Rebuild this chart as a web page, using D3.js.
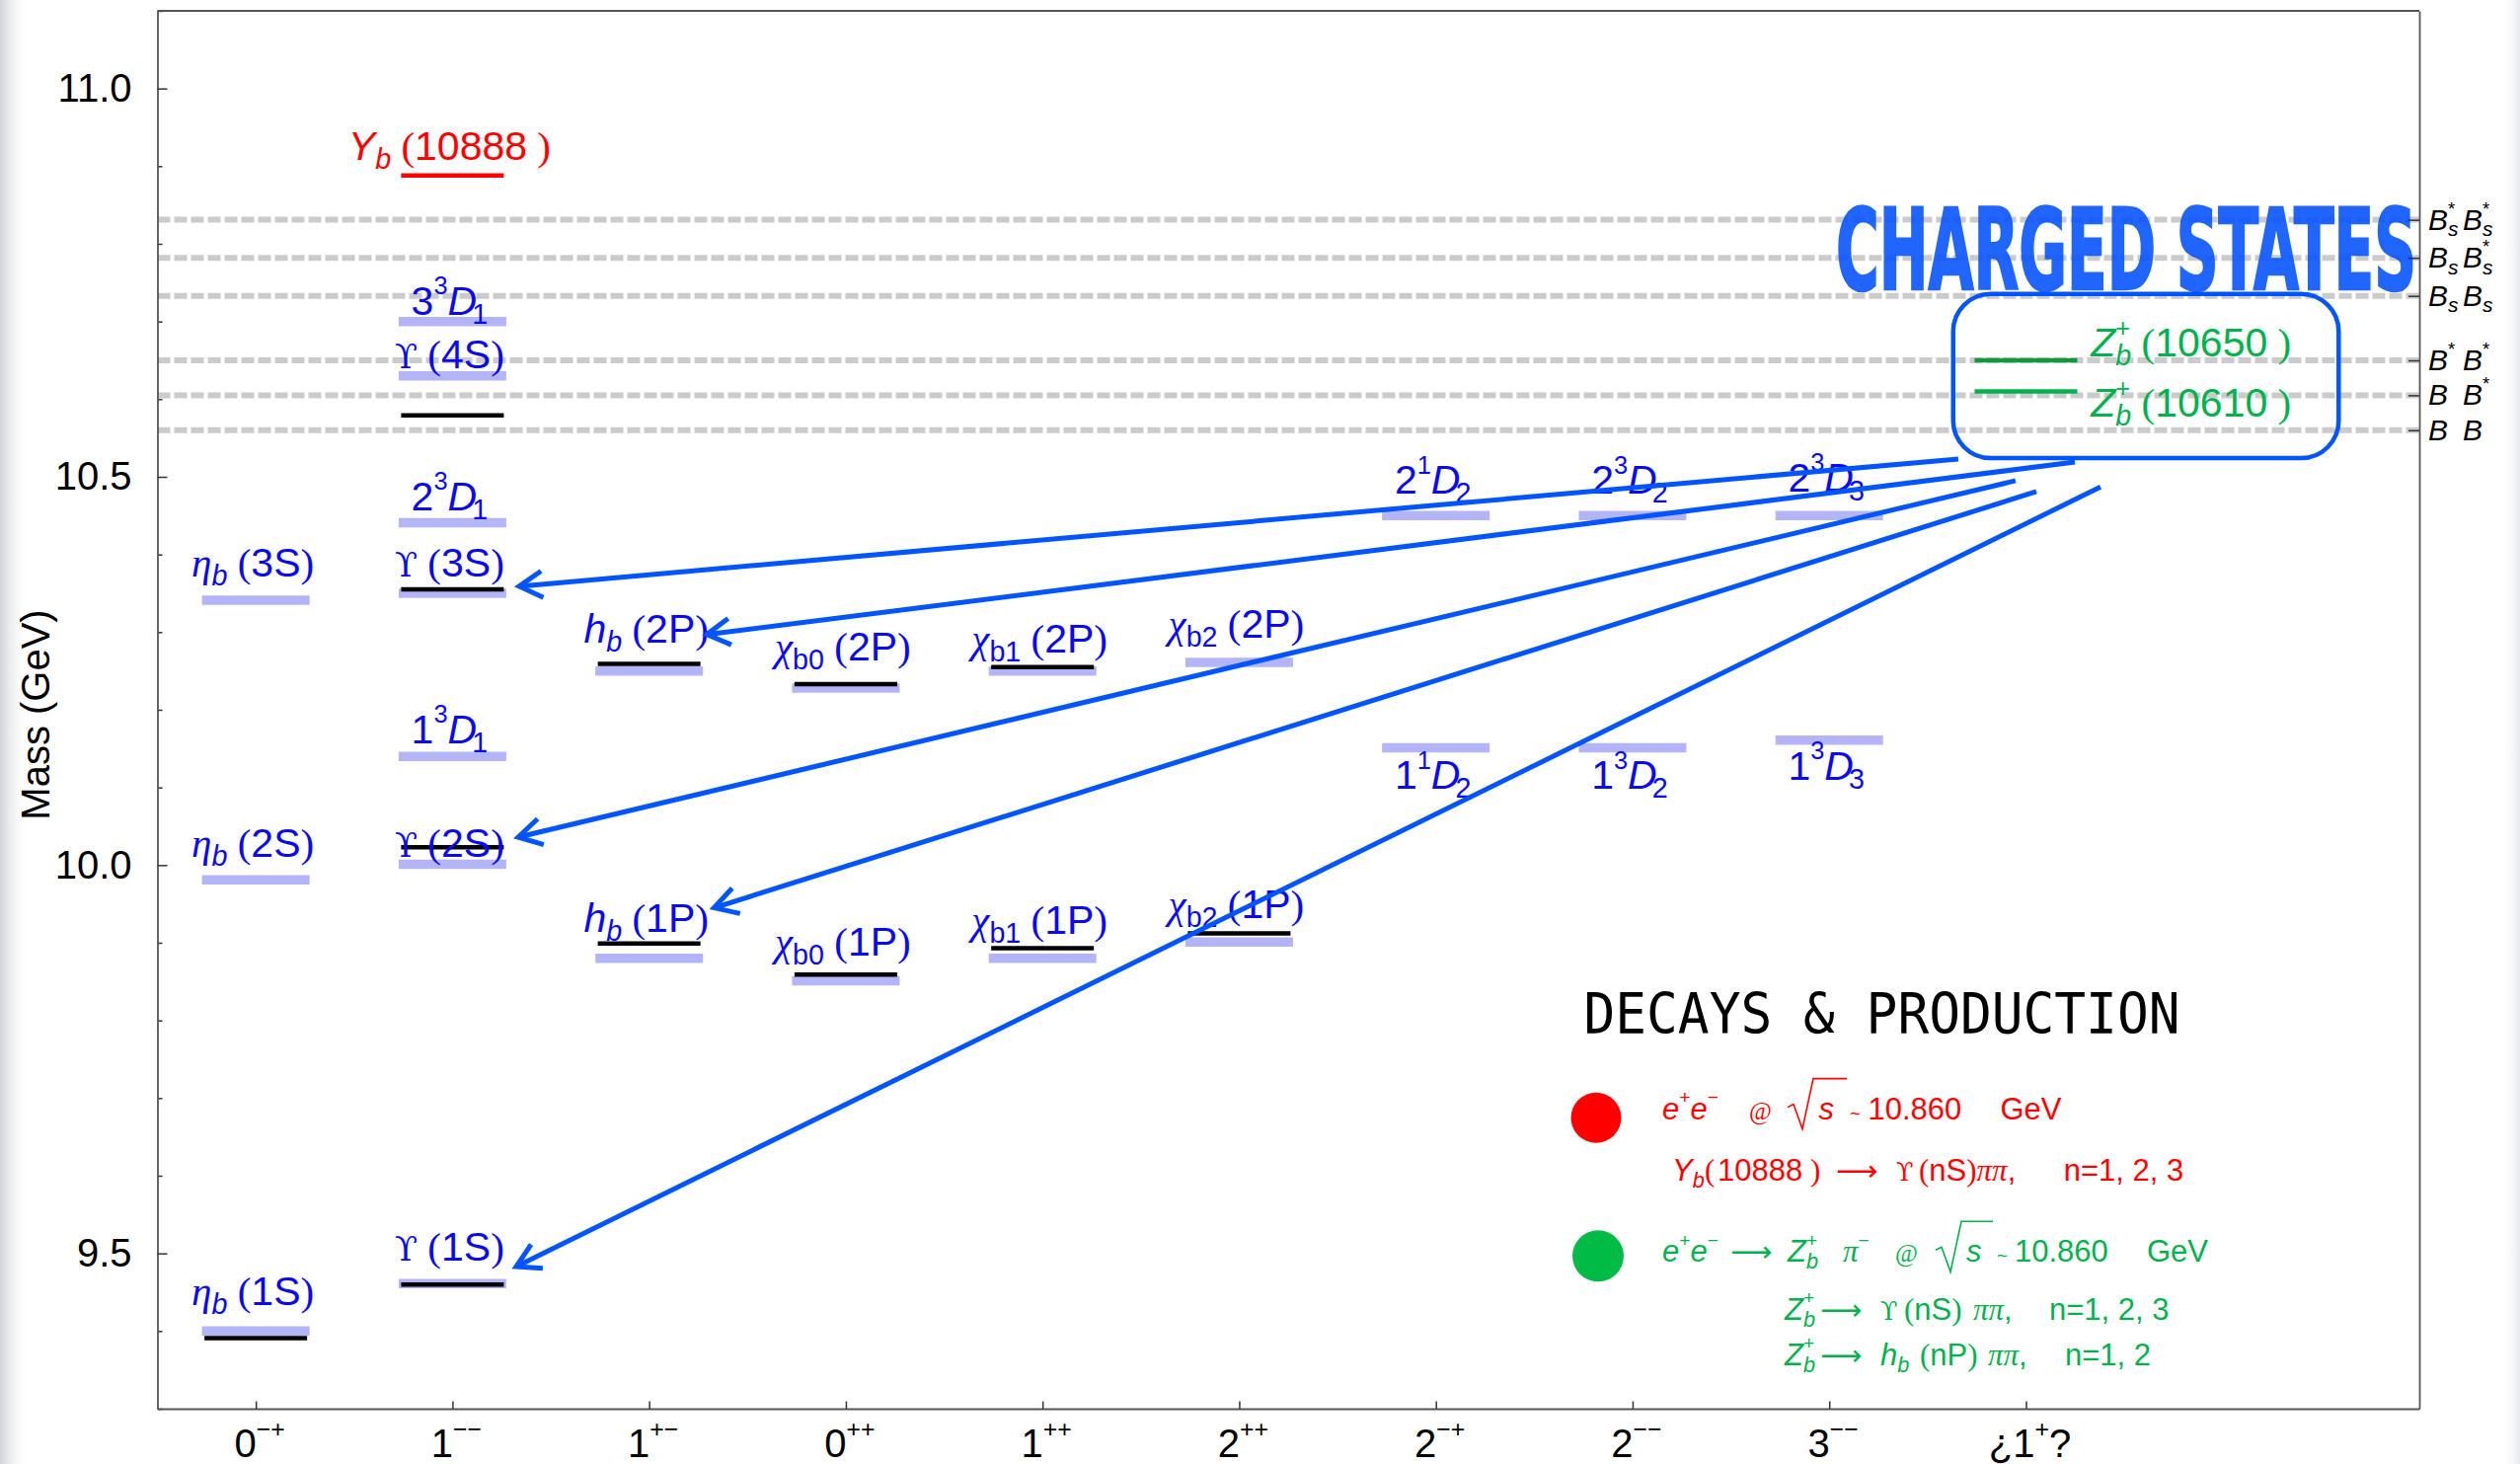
<!DOCTYPE html>
<html><head><meta charset="utf-8">
<script src="https://cdn.jsdelivr.net/npm/d3@7"></script>
<style>html,body{margin:0;padding:0;background:#fff;} svg{display:block;} text{white-space:pre;}</style>
</head><body>
<svg id="chart" width="2553" height="1483"></svg>
<script>
// ---------------- DATA ----------------
const categories = ["0-+","1--","1+-","0++","1++","2++","2-+","2--","3--","¿1+?"];
const yTicks = [9.5, 10.0, 10.5, 11.0];
const yMinorStep = 0.1;

// two-meson thresholds (GeV)
const thresholdPairs  = [["Bs*","Bs*"],["Bs","Bs*"],["Bs","Bs"],["B*","B*"],["B","B*"],["B","B"]];
const thresholdMasses = [10.831, 10.782, 10.733, 10.650, 10.605, 10.560];

// theory predictions (light bars): [state, column, mass GeV]
const theoryStates = [
  ["ηb(1S)",0,9.400],["ηb(2S)",0,9.981],["ηb(3S)",0,10.341],
  ["ϒ(1S)",1,9.461],["ϒ(2S)",1,10.001],["1³D1",1,10.140],["ϒ(3S)",1,10.350],
  ["2³D1",1,10.441],["ϒ(4S)",1,10.630],["3³D1",1,10.700],
  ["hb(1P)",2,9.880],["hb(2P)",2,10.250],
  ["χb0(1P)",3,9.851],["χb0(2P)",3,10.228],
  ["χb1(1P)",4,9.880],["χb1(2P)",4,10.250],
  ["χb2(1P)",5,9.901],["χb2(2P)",5,10.261],
  ["1¹D2",6,10.151],["2¹D2",6,10.450],
  ["1³D2",7,10.151],["2³D2",7,10.450],
  ["1³D3",8,10.161],["2³D3",8,10.450]
];
// experimental masses (black bars)
const expStates = [
  ["ηb(1S)",0,9.391],["ϒ(1S)",1,9.460],["ϒ(2S)",1,10.023],["ϒ(3S)",1,10.355],["ϒ(4S)",1,10.579],
  ["hb(1P)",2,9.899],["hb(2P)",2,10.259],["χb0(1P)",3,9.859],["χb0(2P)",3,10.233],
  ["χb1(1P)",4,9.893],["χb1(2P)",4,10.255],["χb2(1P)",5,9.912]
];
// exotic states: [state, column, mass, colour key]
const exoticStates = [["Yb(10888)",1,10.888,"red"],["Zb(10650)",9,10.650,"dgreen"],["Zb(10610)",9,10.610,"green"]];

// label anchor masses: [state, column, label mass, anchor]
const stateLabels = [
  ["ηb(1S)",0,9.433,"m"],["ηb(2S)",0,10.011,"m"],["ηb(3S)",0,10.372,"m"],
  ["ϒ(1S)",1,9.491,"m"],["ϒ(2S)",1,10.011,"m"],["1³D1",1,10.157,"m"],["ϒ(3S)",1,10.372,"m"],
  ["2³D1",1,10.457,"m"],["ϒ(4S)",1,10.640,"m"],["3³D1",1,10.709,"m"],["Yb(10888)",1,10.908,"m"],
  ["hb(1P)",2,9.914,"m"],["hb(2P)",2,10.286,"m"],
  ["χb0(1P)",3,9.883,"m"],["χb0(2P)",3,10.264,"m"],
  ["χb1(1P)",4,9.911,"m"],["χb1(2P)",4,10.274,"m"],
  ["χb2(1P)",5,9.932,"m"],["χb2(2P)",5,10.293,"m"],
  ["1¹D2",6,10.098,"m"],["2¹D2",6,10.478,"m"],
  ["1³D2",7,10.098,"m"],["2³D2",7,10.478,"m"],
  ["1³D3",8,10.110,"m"],["2³D3",8,10.481,"m"],
  ["Zb(10650)",9.33,10.655,"s"],["Zb(10610)",9.33,10.577,"s"]
];

// decay arrows Zb -> bottomonium: [fromColumn, fromMass, toColumn, toMass]
const decayArrows = [
  [8.656,10.523, 1.339,10.359],
  [9.249,10.519, 2.293,10.297],
  [8.947,10.495, 1.334,10.036],
  [9.053,10.481, 2.330,9.945],
  [9.379,10.487, 1.324,9.483]
];
// box round the charged states: [col0, col1, mass0, mass1]
const chargedBox = [8.63, 10.59, 10.524, 10.7355];

// ---------------- STYLE / LAYOUT ----------------
const W = 2553, H = 1483;
const SANS = "'Liberation Sans', Arial, sans-serif";
const SERIF = "'Liberation Serif', 'DejaVu Serif', serif";
const C = {blue:"#0a0af0", lav:"#b4b4f9", red:"#ff0000", green:"#00b24e", dgreen:"#109a3e",
           arrow:"#0055ff", dash:"#cbcbcb", axis:"#555"};

const svg = d3.select("#chart");
const x = d3.scaleLinear().domain([-0.5, 11]).range([159.5, 2451]);
const y = d3.scaleLinear().domain([9.3, 11.1]).range([1427, 11]);
const HALF_TH = 0.2735, HALF_EX = 0.261;

// scanned-edge shading
const defs = svg.append("defs");
const lg = defs.append("linearGradient").attr("id","edgeL");
lg.append("stop").attr("offset","0").attr("stop-color","#c4c8d0").attr("stop-opacity",0.8);
lg.append("stop").attr("offset","1").attr("stop-color","#ffffff").attr("stop-opacity",0);
const rg = defs.append("linearGradient").attr("id","edgeR");
rg.append("stop").attr("offset","0").attr("stop-color","#ffffff").attr("stop-opacity",0);
rg.append("stop").attr("offset","1").attr("stop-color","#d8dbe0").attr("stop-opacity",0.6);
svg.append("rect").attr("x",0).attr("y",0).attr("width",30).attr("height",H).attr("fill","url(#edgeL)");
svg.append("rect").attr("x",2533).attr("y",0).attr("width",20).attr("height",H).attr("fill","url(#edgeR)");

// rich text helper
const STY = {
  r:{fam:SANS}, i:{fam:SANS,style:"italic"}, g:{fam:SERIF,style:"italic"},
  G:{fam:"'DejaVu Serif', 'Liberation Serif', serif",size:0.82},
  p:{fam:SERIF}, s:{fam:SANS,size:0.7,shift:0.22}, si:{fam:SANS,style:"italic",size:0.7,shift:0.22},
  u:{fam:SANS,size:0.62,shift:-0.5}, at:{fam:SERIF,size:0.8}, til:{fam:SANS,size:0.6},
  arr:{fam:"'DejaVu Sans', sans-serif",size:0.95}
};
function rich(g, px, py, tokens, F, color, anchor){
  const t = g.append("text").attr("x",px).attr("y",py).attr("fill",color)
    .attr("text-anchor",anchor||"middle").attr("font-size",F);
  let cur = 0;
  tokens.forEach(tok => {
    const [kind,str,dx,ax] = tok;
    const st = STY[kind];
    const shift = (st.shift||0)*F;
    const ts = t.append("tspan").text(str).attr("font-family",st.fam)
      .attr("font-style",st.style||"normal").attr("font-size",(st.size||1)*F);
    if (ax !== undefined) ts.attr("x",ax);
    if (shift !== cur){ ts.attr("dy",shift-cur); cur = shift; }
    if (dx) ts.attr("dx",dx*F);
  });
  return t;
}
function labelTokens(name){
  let m;
  if ((m = name.match(/^ηb\((\d)S\)$/))) return [["g","η"],["si","b"],["p"," ("],["r",m[1]+"S"],["p",")"]];
  if ((m = name.match(/^ϒ\((\d)S\)$/))) return [["G","ϒ"],["p"," ("],["r",m[1]+"S"],["p",")"]];
  if ((m = name.match(/^hb\((\d)P\)$/))) return [["i","h"],["si","b"],["p"," ("],["r",m[1]+"P"],["p",")"]];
  if ((m = name.match(/^χb(\d)\((\d)P\)$/))) return [["g","χ"],["s","b"+m[1]],["p"," ("],["r",m[2]+"P"],["p",")"]];
  if ((m = name.match(/^(\d)([¹³])D(\d)$/))) return [["r",m[1]],["u",m[2]==="¹"?"1":"3"],["i","D"],["s",m[3],-0.12]];
  if ((m = name.match(/^Yb\((\d+)\)$/))) return [["i","Y"],["si","b"],["p"," ("],["r",m[1]],["p"," )"]];
  if ((m = name.match(/^Zb\((\d+)\)$/))) return [["i","Z"],["u","+"],["si","b",-0.36],["p"," ("],["r",m[1]],["p"," )"]];
  return [["r",name]];
}

// ---------------- THRESHOLD LINES ----------------
svg.append("g").selectAll("line").data(thresholdMasses).join("line")
  .attr("x1",x.range()[0]).attr("x2",x.range()[1])
  .attr("y1",d=>y(d)).attr("y2",d=>y(d))
  .attr("stroke",C.dash).attr("stroke-width",6).attr("stroke-dasharray","13,4");

// ---------------- CHARGED STATES banner ----------------
svg.append("text").attr("x",x(8.034)).attr("y",y(10.7415))
  .attr("font-family","'Liberation Sans Narrow','DejaVu Sans Condensed','Liberation Sans',sans-serif")
  .attr("font-weight","bold").attr("font-size",114)
  .attr("textLength",588).attr("lengthAdjust","spacingAndGlyphs")
  .attr("fill","#0a55ff").attr("stroke","#0a55ff").attr("stroke-width",2.5)
  .attr("opacity",0.9).text("CHARGED STATES");

// ---------------- AXES ----------------
const axG = svg.append("g").attr("font-family",SANS);
const minors = d3.range(9.3, 11.1+1e-9, yMinorStep).map(v=>+v.toFixed(1)).filter(v=>!yTicks.includes(v));
const gMin = axG.append("g").attr("transform",`translate(${x.range()[0]},0)`)
  .call(d3.axisLeft(y).tickValues(minors).tickSize(-5).tickSizeOuter(0).tickFormat(""));
gMin.select(".domain").remove();
const gL = axG.append("g").attr("transform",`translate(${x.range()[0]},0)`)
  .call(d3.axisLeft(y).tickValues(yTicks).tickSize(-10).tickSizeOuter(0).tickPadding(26).tickFormat(d3.format(".1f")));
gL.selectAll("text").attr("font-size",40).attr("font-family",SANS).attr("fill","#000");
const gB = axG.append("g").attr("transform",`translate(0,${y.range()[0]})`)
  .call(d3.axisBottom(x).tickValues(d3.range(categories.length)).tickSize(-7.5).tickSizeOuter(0).tickFormat(""));
const gR = axG.append("g").attr("transform",`translate(${x.range()[1]},0)`)
  .call(d3.axisRight(y).tickValues(thresholdMasses).tickSize(-11).tickSizeOuter(0).tickFormat(""));
axG.append("line").attr("x1",x.range()[0]).attr("x2",x.range()[1]).attr("y1",y.range()[1]).attr("y2",y.range()[1]);
axG.selectAll("path.domain, line").attr("stroke",C.axis).attr("stroke-width",1.8);
axG.selectAll(".tick line").attr("stroke","#333").attr("stroke-width",1.5);

// bottom category labels
categories.forEach((c,i)=>{
  const m = c.match(/^(¿?\d)([+-]+)(\??)$/);
  const toks = [["r",m[1]],["u",m[2].replace(/-/g,"−")]];
  if (m[3]) toks.push(["r",m[3]]);
  rich(axG, x(i)+4, 1475.5, toks, 40, "#000", "middle");
});
// right threshold labels
thresholdPairs.forEach((pair,i)=>{
  const yy = y(thresholdMasses[i]) + 10;
  const toks = [];
  pair.forEach((mes,j)=>{
    toks.push(["i","B",0, j===0 ? 2460 : 2495]);
    const s = mes.includes("s"), st = mes.includes("*");
    if (st) toks.push(["u","*"]);
    if (s) toks.push(["si","s", st ? -0.24 : 0]);
  });
  rich(axG, 2460, yy, toks, 30, "#000", "start");
});
axG.append("text").attr("transform","translate(50,724) rotate(-90)")
  .attr("text-anchor","middle").attr("font-size",40).attr("font-family",SANS).text("Mass (GeV)");

// ---------------- LEVELS ----------------
const lev = svg.append("g");
lev.selectAll("line.th").data(theoryStates).join("line").attr("class","th")
  .attr("x1",d=>x(d[1]-HALF_TH)).attr("x2",d=>x(d[1]+HALF_TH))
  .attr("y1",d=>y(d[2])).attr("y2",d=>y(d[2]))
  .attr("stroke",C.lav).attr("stroke-width",9.5);
lev.selectAll("line.ex").data(expStates).join("line").attr("class","ex")
  .attr("x1",d=>x(d[1]-HALF_EX)).attr("x2",d=>x(d[1]+HALF_EX))
  .attr("y1",d=>y(d[2])).attr("y2",d=>y(d[2]))
  .attr("stroke","#000").attr("stroke-width",4.5);
lev.selectAll("line.xo").data(exoticStates).join("line").attr("class","xo")
  .attr("x1",d=>x(d[1]-HALF_EX)).attr("x2",d=>x(d[1]+HALF_EX))
  .attr("y1",d=>y(d[2])).attr("y2",d=>y(d[2]))
  .attr("stroke",d=>C[d[3]]).attr("stroke-width",4.5);

// ---------------- LABELS ----------------
const labG = svg.append("g");
stateLabels.forEach(([name,col,lm,anc])=>{
  const color = name.startsWith("Yb") ? C.red : name.startsWith("Zb") ? C.green : C.blue;
  rich(labG, x(col) + (anc==="m" ? -3 : 0), y(lm), labelTokens(name), 41, color, anc==="m" ? "middle" : "start");
});

// ---------------- ARROWS + BOX ----------------
const arG = svg.append("g").attr("stroke",C.arrow).attr("fill","none").attr("stroke-linecap","butt");
arG.append("rect").attr("x",x(chargedBox[0])).attr("y",y(chargedBox[3]))
  .attr("width",x(chargedBox[1])-x(chargedBox[0])).attr("height",y(chargedBox[2])-y(chargedBox[3]))
  .attr("rx",38).attr("ry",38).attr("stroke-width",4.5);
decayArrows.forEach(([c0,m0,c1,m1])=>{
  const x0=x(c0), y0=y(m0), x1=x(c1), y1=y(m1);
  arG.append("line").attr("x1",x0).attr("y1",y0).attr("x2",x1).attr("y2",y1).attr("stroke-width",5);
  const a = Math.atan2(y0-y1, x0-x1), L = 27, sp = 0.52;
  const p1 = [x1+L*Math.cos(a+sp), y1+L*Math.sin(a+sp)], p2 = [x1+L*Math.cos(a-sp), y1+L*Math.sin(a-sp)];
  arG.append("path").attr("d",`M${p1}L${x1},${y1}L${p2}`).attr("stroke-width",5).attr("stroke-linejoin","miter");
});

// ---------------- LEGEND ----------------
const lgd = svg.append("g");
lgd.append("text").attr("x",1604.5).attr("y",1046.7).attr("font-family","'DejaVu Sans Mono', monospace")
  .attr("font-size",57).attr("textLength",604).attr("lengthAdjust","spacingAndGlyphs").attr("fill","#000")
  .text("DECAYS & PRODUCTION");
lgd.append("circle").attr("cx",1617).attr("cy",1132.3).attr("r",25.5).attr("fill","#ff0000");
lgd.append("circle").attr("cx",1619).attr("cy",1272.3).attr("r",26).attr("fill","#00bb46");
const F2 = 31;
function radical(x0, x1, base, color){
  lgd.append("path").attr("d",`M${x0},${base-12}L${x0+6},${base-15}L${x0+15},${base+10}L${x0+26},${base-41}L${x1},${base-41}`)
    .attr("fill","none").attr("stroke",color).attr("stroke-width",1.6);
}
rich(lgd,0,1133.6,[["i","e",0,1684],["u","+"],["i","e"],["u","−"],["at","@",0,1772],["i","s",0,1842.5],
  ["til","~",0,1874],["r","10.860",0,1892.5],["r","GeV",0,2026.4]],F2,C.red,"start");
radical(1811,1871,1133.6,C.red);
rich(lgd,0,1196.4,[["i","Y",0,1694],["si","b"],["p","(",0,1727],["r","10888",0,1740],["p"," )"],
  ["arr","⟶",0,1860],["G","ϒ",0,1921],["p","(",0,1944],["r","nS"],["p",")"],["g","ππ"],["r",","],
  ["r","n=1, 2, 3",0,2090.7]],F2,C.red,"start");
rich(lgd,0,1278.3,[["i","e",0,1684],["u","+"],["i","e"],["u","−"],["arr","⟶",0,1753],["i","Z",0,1811],
  ["u","+"],["si","b",-0.36],["g","π",0,1867],["u","−"],["at","@",0,1920],["i","s",0,1992],["til","~",0,2023],
  ["r","10.860",0,2041],["r","GeV",0,2175]],F2,C.green,"start");
radical(1961,2019,1278.3,C.green);
rich(lgd,0,1336.7,[["i","Z",0,1808],["u","+"],["si","b",-0.36],["arr","⟶",0,1844],["G","ϒ",0,1905],
  ["p","(",0,1929],["r","nS"],["p",")"],["g","ππ",0,1999],["r",","],["r","n=1, 2, 3",0,2076]],F2,C.green,"start");
rich(lgd,0,1382.7,[["i","Z",0,1808],["u","+"],["si","b",-0.36],["arr","⟶",0,1844],["i","h",0,1905],
  ["si","b"],["p","(",0,1945],["r","nP"],["p",")"],["g","ππ",0,2014],["r",","],["r","n=1, 2",0,2092]],F2,C.green,"start");
</script>
</body></html>
